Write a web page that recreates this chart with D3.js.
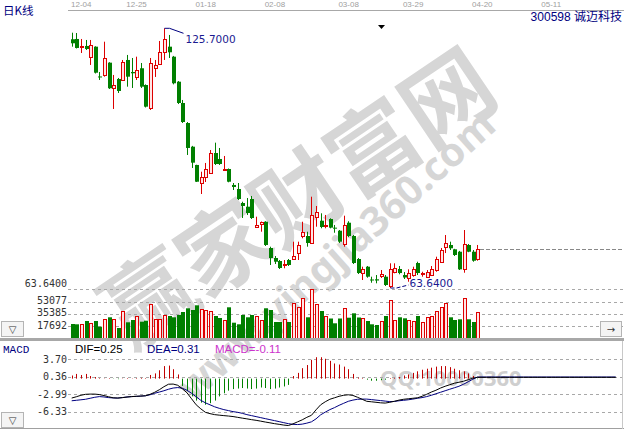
<!DOCTYPE html>
<html><head><meta charset="utf-8">
<script src="https://cdn.jsdelivr.net/npm/d3@7"></script>
<style>
html,body{margin:0;padding:0;background:#fff;overflow:hidden}
svg{display:block}
</style></head><body>
<script>
// ---------- data ----------
const dateTicks = ["12-04","12-25","01-18","02-08","03-08","03-29","04-20","05-11"];
const dateTickSlots = [0,12,27,42,58,72,87,102];
const stockCode = "300598";
const stockName = "诚迈科技";
const open = [123.08,123.15,121.12,121.48,118.92,121.31,114.19,114.55,117.49,111.44,
113.59,113.35,118.13,115.26,114.14,116.15,112.15,106.59,116.15,117.10,
120.11,121.31,118.92,112.94,107.85,103.07,97.41,93.04,88.73,90.17,
91.19,95.90,94.47,91.84,92.08,88.26,87.30,83.95,83.07,84.91,
78.29,78.93,79.48,73.20,70.81,70.09,69.14,70.33,70.50,72.08,
76.07,76.07,74.47,80.68,79.72,78.34,80.13,78.06,77.33,74.15,
79.24,76.07,70.57,67.22,68.73,65.67,65.72,66.60,66.34,64.12,
67.53,68.18,66.74,66.03,66.74,69.61,67.10,66.34,66.74,67.94,
69.92,73.51,73.92,72.89,72.31,68.10,73.92,72.31,70.50];
const close = [122.12,121.00,121.36,120.76,121.72,115.09,114.00,118.61,111.37,112.15,
110.72,117.72,114.14,114.95,115.74,111.75,106.97,117.34,116.94,119.97,
123.15,119.97,112.56,107.85,103.31,97.10,93.59,89.04,90.17,92.08,
95.97,93.27,93.27,92.08,89.04,87.78,84.91,83.24,81.56,80.37,
78.70,79.41,73.92,70.81,69.92,68.42,69.37,69.14,71.29,73.92,
77.09,74.39,81.09,81.87,78.22,78.58,78.06,77.86,74.71,78.70,
76.07,69.61,67.22,68.18,66.34,65.48,65.43,67.10,64.36,68.18,
68.42,67.22,66.15,67.29,68.18,67.22,67.22,67.53,68.18,70.57,
72.72,74.47,73.13,71.53,68.10,74.15,72.31,70.16,72.89];
const high = [124.65,124.58,123.15,122.91,122.91,121.40,115.26,122.50,117.60,114.55,
113.83,118.13,119.33,118.61,118.92,117.41,112.30,118.61,118.13,122.67,
125.70,124.11,119.10,113.10,108.57,103.30,97.60,93.10,91.43,93.52,
96.62,98.37,97.10,95.19,92.20,88.73,88.73,84.26,85.15,85.63,
80.68,79.53,79.60,73.51,71.29,70.33,70.33,70.57,74.71,74.71,
79.48,77.09,85.46,83.24,81.49,81.09,80.30,78.70,77.50,80.92,
79.60,76.30,70.80,68.73,68.90,66.34,66.74,67.94,66.74,69.54,
69.54,68.90,67.46,68.10,68.73,69.92,67.53,67.94,68.90,71.12,
73.20,76.30,74.71,73.00,72.50,77.50,74.15,72.72,73.92];
const low = [121.31,120.88,119.80,120.52,116.94,114.90,113.35,114.14,111.20,106.42,
110.24,113.11,111.75,111.44,113.35,111.44,106.78,106.18,114.07,116.94,
118.13,118.61,112.30,107.60,103.07,95.43,92.32,88.97,86.10,88.97,
91.00,93.04,93.04,91.60,88.90,87.06,84.67,80.37,81.09,80.13,
78.10,77.09,73.68,69.14,69.37,68.18,68.35,68.90,70.33,70.33,
75.52,73.51,74.27,78.29,77.91,77.91,77.90,76.85,74.40,73.51,
75.80,69.37,66.98,65.55,66.10,64.90,64.76,66.03,64.12,63.64,
67.15,66.91,65.79,65.14,66.34,66.74,66.34,66.03,66.50,67.53,
69.85,71.99,72.72,71.29,67.94,67.29,72.20,69.92,70.16];
const volume = [20857,20425,21288,25172,22295,25172,16973,27617,30494,27617,
15103,39124,23302,26610,31932,24165,25604,49193,28049,28480,
33371,32364,30494,33802,38118,43440,40994,47755,42001,40563,
39124,32364,29487,26610,44878,22727,20425,33802,30494,33802,
32796,26610,43440,40994,23734,23734,28049,23734,50632,44878,
57824,30494,70769,49625,39556,33083,28768,21864,28768,43440,
29919,36248,30206,30206,25172,20425,19418,25604,32364,55378,
26610,30494,29056,26610,25604,32364,24165,30494,32364,39556,
44878,50632,30494,26610,27617,57824,27617,23734,37686];
const volTicks = [17692,35385,53077];
const priceTicks = [63.64];
const dif = [-3.72,-3.47,-3.19,-3.00,-2.96,-2.96,-3.05,-3.24,-3.47,-3.67,
-3.72,-3.63,-3.53,-3.44,-3.38,-3.34,-3.28,-3.00,-2.61,-2.13,
-1.55,-1.07,-1.04,-1.27,-1.94,-2.71,-3.86,-5.01,-5.78,-6.45,
-6.70,-6.89,-6.99,-7.08,-7.16,-7.26,-7.41,-7.56,-7.70,-7.85,
-7.98,-8.14,-8.31,-8.46,-8.62,-8.75,-8.89,-8.98,-8.66,-8.27,
-7.89,-7.41,-7.02,-5.97,-5.01,-4.43,-3.95,-3.67,-3.38,-3.19,
-3.09,-3.22,-3.57,-3.95,-4.34,-4.43,-4.53,-4.63,-4.68,-4.53,
-4.34,-4.11,-3.95,-3.86,-3.76,-3.67,-3.38,-3.00,-2.57,-2.23,
-1.80,-1.46,-1.17,-0.88,-0.69,-0.50,-0.21,0.08,0.25];
const dea = [-4.24,-4.15,-4.05,-3.95,-3.76,-3.57,-3.44,-3.51,-3.63,-3.70,
-3.72,-3.63,-3.51,-3.44,-3.40,-3.34,-3.28,-3.09,-2.80,-2.57,
-2.32,-2.03,-1.80,-1.71,-1.84,-2.23,-2.80,-3.47,-4.15,-4.63,
-5.01,-5.39,-5.68,-5.93,-6.12,-6.32,-6.45,-6.64,-6.89,-7.08,
-7.27,-7.47,-7.66,-7.85,-8.04,-8.23,-8.43,-8.62,-8.75,-8.79,
-8.71,-8.52,-8.27,-7.70,-6.93,-6.41,-5.93,-5.55,-5.11,-4.72,
-4.34,-4.11,-3.95,-3.92,-3.92,-4.01,-4.11,-4.20,-4.30,-4.40,
-4.36,-4.24,-4.15,-4.05,-3.92,-3.76,-3.63,-3.44,-3.19,-2.90,
-2.61,-2.32,-2.03,-1.75,-1.46,-1.07,-0.60,-0.12,0.31];
const macdHist = [0.6,0.9,0.7,0.9,0.5,0.3,0.1,0.05,0.1,-0.05,
-0.1,0.05,0.1,0.05,0.1,0.15,0.1,0.7,1.0,1.6,
2.4,2.5,1.8,0.8,-1.4,-2.4,-3.4,-4.2,-4.6,-5.0,
-4.7,-4.2,-3.4,-2.8,-2.3,-2.0,-1.9,-1.8,-1.9,-2.0,
-1.9,-1.7,-1.8,-2.0,-1.9,-1.7,-1.5,-1.2,0.5,1.1,
2.0,2.6,3.6,4.1,4.1,3.8,3.4,2.9,2.7,2.3,
1.8,0.9,0.2,0.1,-0.2,-0.4,-0.4,-0.3,-0.2,0.1,
0.15,0.3,0.6,0.8,1.1,1.4,1.7,1.9,2.1,2.3,
2.4,2.4,2.2,1.9,1.6,1.4,1.0,0.5,-0.11];
const difTail = [0.25,0.25,0.25,0.25,0.25,0.25,0.25,0.25,0.25,0.25,0.25,0.25,0.25,0.25,0.25,
0.25,0.25,0.25,0.25,0.25,0.25,0.25,0.25,0.25,0.25,0.25,0.25,0.25,0.25,0.25];
const deaTail = [0.31,0.31,0.31,0.31,0.31,0.31,0.31,0.31,0.31,0.31,0.31,0.31,0.31,0.31,0.31,
0.31,0.31,0.31,0.31,0.31,0.31,0.31,0.31,0.31,0.31,0.31,0.31,0.31,0.31,0.31];
const macdTicks = [3.70,0.36,-2.99,-6.33];
const lastDIF = "0.25", lastDEA = "0.31", lastMACD = "-0.11";

// ---------- setup ----------
const W = 624, H = 429;
const RED = "#dd0000", PINK = "#ffe6e6", GREEN = "#007f00", NAVY = "#000080";
const svg = d3.select("body").append("svg").attr("width", W).attr("height", H)
  .style("font-family", "'Liberation Sans', Arial, sans-serif");

const n = open.length;
const x = d3.scaleLinear().domain([0, n - 1]).range([71.7, 477.4]);
const yP = d3.scaleLinear().domain([63.64, 125.70]).range([288, 28.3]);
const yV = d3.scaleLinear().domain([0, 70769]).range([338.5, 289.3]);
const yM = d3.scaleLinear().domain([-6.33, 3.70]).range([411.7, 359.3]);
const px = i => Math.round(x(i));

// ---------- watermark ----------
const wm = svg.append("g").attr("fill", "#d6d6d6").style("font-weight", "bold");
wm.append("text").attr("transform", "translate(303,205) rotate(-34)")
  .attr("text-anchor", "middle").attr("dominant-baseline", "middle")
  .style("font-family", "'Noto Sans CJK SC'").style("font-size", "90px").text("赢家财富网");
wm.append("text").attr("transform", "translate(338,258) rotate(-42)")
  .attr("text-anchor", "middle").attr("dominant-baseline", "middle")
  .style("font-family", "'Noto Sans', sans-serif").style("font-size", "40px").text("www.yingjia360.com");
wm.append("text").attr("x", 380).attr("y", 386).attr("fill", "#cfcfcf")
  .style("font-family", "'Noto Sans', sans-serif").style("font-size", "22px").text("QQ:10000360");

// ---------- top date axis ----------
svg.append("line").attr("x1", 68).attr("x2", W).attr("y1", 10.5).attr("y2", 10.5).attr("stroke", "#a8a8a8");
svg.append("g").selectAll("text").data(dateTicks).join("text")
  .attr("x", (d, i) => x(dateTickSlots[i]) - 0.7).attr("y", 7)
  .attr("fill", "#a0a0a0").style("font-size", "8px").text(d => d);

svg.append("text").attr("x", 3).attr("y", 15).attr("fill", NAVY)
  .style("font-family", "'Noto Sans CJK SC'").style("font-size", "11.5px").text("日K线");
svg.append("text").attr("x", 622).attr("y", 21).attr("text-anchor", "end").attr("fill", NAVY)
  .style("font-family", "'Liberation Sans', 'Noto Sans CJK SC'").style("font-size", "12px").text(stockCode + " " + stockName);
svg.append("path").attr("d", "M378,25L385,25L381.5,29Z").attr("fill", "#000");

// ---------- gridlines / labels ----------
const grid = svg.append("g").attr("stroke", "#a8a8a8").attr("stroke-dasharray", "3,3");
const mono = "'DejaVu Sans Mono', monospace";
priceTicks.forEach(v => {
  const yy = Math.round(yP(v)) + 1.5;
  grid.append("line").attr("x1", 68).attr("x2", W).attr("y1", yy).attr("y2", yy);
  svg.append("text").attr("x", 67).attr("y", yP(v) - 1).attr("text-anchor", "end")
    .attr("fill", "#333").style("font-family", mono).style("font-size", "10px").text(v.toFixed(4));
});
volTicks.forEach(v => {
  const yy = Math.round(yV(v)) + 0.5;
  grid.append("line").attr("x1", 68).attr("x2", W).attr("y1", yy).attr("y2", yy);
  svg.append("text").attr("x", 67).attr("y", yV(v) + 2.5).attr("text-anchor", "end")
    .attr("fill", "#333").style("font-family", mono).style("font-size", "10px").text(v);
});
macdTicks.forEach(v => {
  const yy = Math.round(yM(v)) + 0.5;
  grid.append("line").attr("x1", 68).attr("x2", W).attr("y1", yy).attr("y2", yy);
  svg.append("text").attr("x", 67).attr("y", yM(v) + 3.5).attr("text-anchor", "end")
    .attr("fill", "#333").style("font-family", mono).style("font-size", "10px").text(v.toFixed(2));
});
// last close reference
const lc = Math.round(yP(close[n - 1])) + 0.5;
svg.append("line").attr("x1", px(n - 1) + 3).attr("x2", W).attr("y1", lc).attr("y2", lc)
  .attr("stroke", "#888").attr("stroke-dasharray", "4,2");

// ---------- candles ----------
const idx = d3.range(n);
const gC = svg.append("g");
gC.selectAll("line").data(idx).join("line")
  .attr("x1", i => px(i) + 0.5).attr("x2", i => px(i) + 0.5)
  .attr("y1", i => yP(high[i])).attr("y2", i => yP(low[i]))
  .attr("stroke", i => close[i] >= open[i] ? RED : GREEN);
gC.selectAll("rect").data(idx).join("rect")
  .each(function (i) {
    const up = close[i] >= open[i];
    const t = yP(Math.max(open[i], close[i])), b = yP(Math.min(open[i], close[i]));
    const s = d3.select(this);
    if (up) {
      const tt = Math.round(t) + 0.5, bb = Math.max(Math.round(b) + 0.5, tt + 1);
      s.attr("x", px(i) - 0.5).attr("width", 3).attr("y", tt).attr("height", bb - tt)
        .attr("fill", PINK).attr("stroke", RED);
    } else {
      s.attr("x", px(i) - 1).attr("width", 4).attr("y", t).attr("height", Math.max(1, b - t))
        .attr("fill", GREEN);
    }
  });

// annotations
const hiI = d3.maxIndex(high), loI = d3.minIndex(low);
const hx = px(hiI) + 0.5, hy = yP(high[hiI]);
svg.append("polyline").attr("points", `${hx},${hy} ${hx + 5},${hy} ${hx + 19},${hy + 5}`)
  .attr("fill", "none").attr("stroke", NAVY);
svg.append("text").attr("x", hx + 21).attr("y", hy + 15).attr("fill", "#1a1a90")
  .style("font-family", "'DejaVu Sans'").style("font-size", "10.5px").text(high[hiI].toFixed(4));
const lx = px(loI) + 0.5, ly = yP(low[loI]);
svg.append("polyline").attr("points", `${lx},${ly} ${lx + 6},${ly} ${lx + 18},${ly - 3}`)
  .attr("fill", "none").attr("stroke", NAVY).attr("stroke-dasharray", "4,2");
svg.append("text").attr("x", lx + 19).attr("y", ly - 1).attr("fill", "#1a1a90")
  .style("font-family", "'DejaVu Sans'").style("font-size", "10.5px").text(low[loI].toFixed(4));

// ---------- volume ----------
const gV = svg.append("g");
gV.selectAll("rect").data(idx).join("rect")
  .each(function (i) {
    const up = close[i] >= open[i];
    const t = yV(volume[i]), b = yV(0);
    const s = d3.select(this);
    if (up) {
      const tt = Math.round(t) + 0.5;
      s.attr("x", px(i) - 0.5).attr("width", 3).attr("y", tt).attr("height", b - tt)
        .attr("fill", PINK).attr("stroke", RED);
    } else {
      s.attr("x", px(i) - 1).attr("width", 4).attr("y", t).attr("height", b - t).attr("fill", GREEN);
    }
  });

// panel separators
svg.append("rect").attr("x", 0).attr("y", 338).attr("width", W).attr("height", 3).attr("fill", "#a8a8a8");
svg.append("line").attr("x1", 0).attr("x2", W).attr("y1", 428.5).attr("y2", 428.5).attr("stroke", "#a0a0a0");
svg.append("line").attr("x1", 622.5).attr("x2", 622.5).attr("y1", 341).attr("y2", 429).attr("stroke", "#c8c8c8");

// buttons
function button(bx, by, w, h, sym) {
  svg.append("rect").attr("x", bx + 0.5).attr("y", by + 0.5).attr("width", w).attr("height", h)
    .attr("fill", "#f4f4f4").attr("stroke", "#b4b4b4");
  svg.append("text").attr("x", bx + w / 2 + 0.5).attr("y", by + h / 2 + 4.5).attr("text-anchor", "middle")
    .attr("fill", "#333").style("font-family", "'DejaVu Sans'").style("font-size", "10px").text(sym);
}
button(1, 321, 22, 15, "▽");
button(600, 321, 21, 15, "→");
button(1, 412, 22, 15, "▽");

// ---------- MACD ----------
const y0 = yM(0);
const gH = svg.append("g");
gH.selectAll("line").data(idx).join("line")
  .attr("x1", i => px(i) + 0.5).attr("x2", i => px(i) + 0.5)
  .attr("y1", y0).attr("y2", i => yM(macdHist[i]))
  .attr("stroke", i => macdHist[i] >= 0 ? "#c00000" : "#008000");

const difAll = dif.concat(difTail), deaAll = dea.concat(deaTail);
const line = d3.line().x((d, i) => x(i)).y(d => yM(d));
svg.append("path").attr("d", line(deaAll)).attr("fill", "none").attr("stroke", NAVY).attr("stroke-width", 1);
svg.append("path").attr("d", line(difAll)).attr("fill", "none").attr("stroke", "#000").attr("stroke-width", 1);

svg.append("text").attr("x", 3).attr("y", 353).attr("fill", NAVY)
  .style("font-family", "'Liberation Mono', monospace").style("font-size", "11px").text("MACD");
svg.append("text").attr("x", 75).attr("y", 353).attr("fill", "#000").style("font-size", "11.5px").text("DIF=" + lastDIF);
svg.append("text").attr("x", 147).attr("y", 353).attr("fill", NAVY).style("font-size", "11.5px").text("DEA=" + lastDEA);
svg.append("text").attr("x", 215).attr("y", 353).attr("fill", "#cc33cc").style("font-size", "11.5px").text("MACD=" + lastMACD);
</script>
</body></html>
